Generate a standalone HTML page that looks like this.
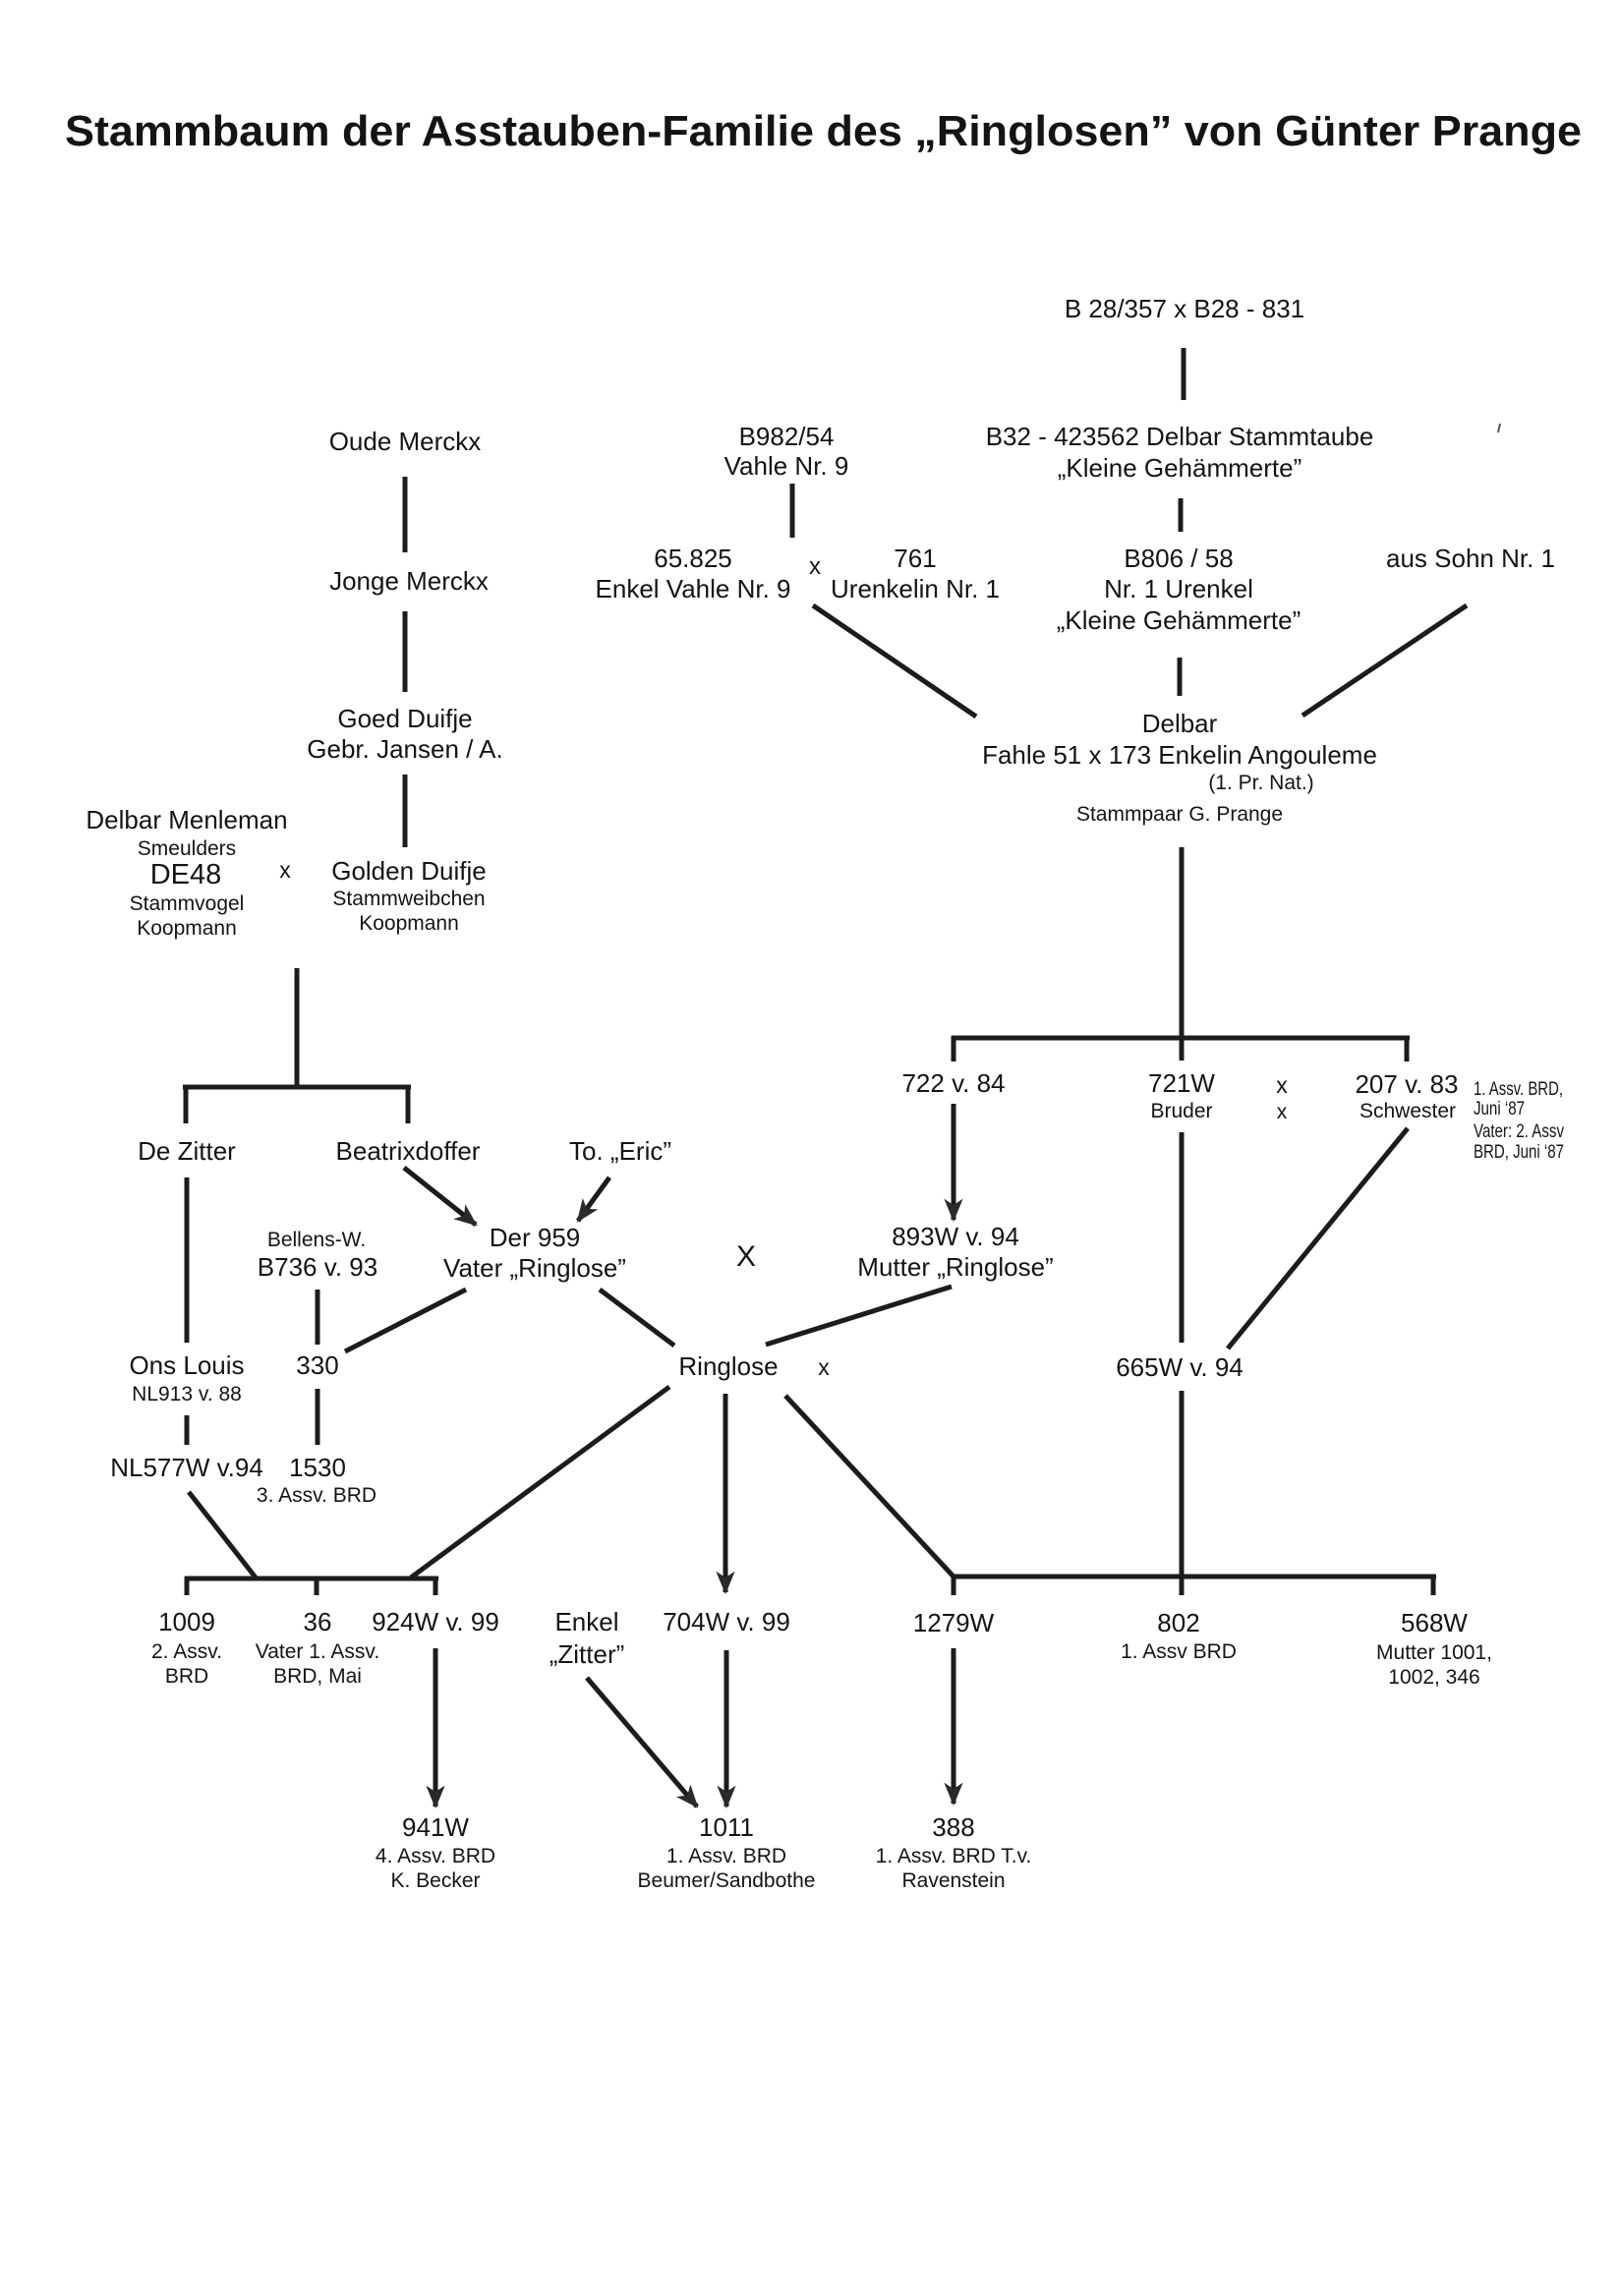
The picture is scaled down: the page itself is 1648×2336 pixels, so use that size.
<!DOCTYPE html>
<html>
<head>
<meta charset="utf-8">
<style>
html,body{margin:0;padding:0;background:#fff;}
svg{display:block;}
text{font-family:"Liberation Sans",Arial,sans-serif;fill:#141414;}
.m{font-size:26px;text-anchor:middle;}
.s{font-size:21px;text-anchor:middle;}
.n{font-size:19px;}
.l{stroke:#1c1c1c;stroke-width:5;fill:none;stroke-linecap:butt;}
</style>
</head>
<body>
<svg width="1648" height="2336" viewBox="0 0 1648 2336" xmlns="http://www.w3.org/2000/svg">
<defs>
<marker id="ar" markerUnits="userSpaceOnUse" markerWidth="30" markerHeight="30" viewBox="-24 -12 28 24" refX="0" refY="0" orient="auto">
<path d="M2,0 L-20,-9 L-14,0 L-20,9 Z" fill="#2a2a2a"/>
</marker>
</defs>
<rect width="1648" height="2336" fill="#fff"/>

<!-- Title -->
<text x="66" y="148" font-size="44" font-weight="bold" textLength="1543" lengthAdjust="spacingAndGlyphs">Stammbaum der Asstauben-Familie des „Ringlosen” von Günter Prange</text>

<!-- Top right -->
<text class="m" x="1205" y="323">B 28/357 x B28 - 831</text>
<line class="l" x1="1204" y1="354" x2="1204" y2="407"/>
<text class="m" x="800" y="453">B982/54</text>
<text class="m" x="800" y="483">Vahle Nr. 9</text>
<line class="l" x1="806" y1="492" x2="806" y2="547"/>
<text class="m" x="1200" y="453">B32 - 423562 Delbar Stammtaube</text>
<text class="m" x="1200" y="485">„Kleine Gehämmerte”</text>
<line class="l" x1="1201" y1="507" x2="1201" y2="541"/>
<line x1="1526" y1="431" x2="1524" y2="440" stroke="#555" stroke-width="2"/>

<text class="m" x="705" y="577">65.825</text>
<text class="m" x="705" y="608">Enkel Vahle Nr. 9</text>
<text class="m" x="829" y="584" style="font-size:24px">x</text>
<text class="m" x="931" y="577">761</text>
<text class="m" x="931" y="608">Urenkelin Nr. 1</text>
<text class="m" x="1199" y="577">B806 / 58</text>
<text class="m" x="1199" y="608">Nr. 1 Urenkel</text>
<text class="m" x="1199" y="640">„Kleine Gehämmerte”</text>
<text class="m" x="1496" y="577">aus Sohn Nr. 1</text>
<line class="l" x1="827" y1="616" x2="993" y2="729"/>
<line class="l" x1="1200" y1="669" x2="1200" y2="708"/>
<line class="l" x1="1492" y1="616" x2="1325" y2="728"/>
<text class="m" x="1200" y="745">Delbar</text>
<text class="m" x="1200" y="777">Fahle 51 x 173 Enkelin Angouleme</text>
<text class="s" x="1283" y="803">(1. Pr. Nat.)</text>
<text class="s" x="1200" y="835">Stammpaar G. Prange</text>

<line class="l" x1="1202" y1="862" x2="1202" y2="1079"/>
<line class="l" x1="968" y1="1056" x2="1434" y2="1056"/>
<line class="l" x1="970" y1="1054" x2="970" y2="1080"/>
<line class="l" x1="1431" y1="1054" x2="1431" y2="1080"/>

<text class="m" x="970" y="1111">722 v. 84</text>
<text class="m" x="1202" y="1111">721W</text>
<text class="s" x="1202" y="1137">Bruder</text>
<text class="s" x="1304" y="1112" style="font-size:23px">x</text>
<text class="s" x="1304" y="1138">x</text>
<text class="m" x="1431" y="1112">207 v. 83</text>
<text class="s" x="1432" y="1137">Schwester</text>
<text class="n" x="1499" y="1114" textLength="91" lengthAdjust="spacingAndGlyphs">1. Assv. BRD,</text>
<text class="n" x="1499" y="1134" textLength="52" lengthAdjust="spacingAndGlyphs">Juni ‘87</text>
<text class="n" x="1499" y="1157" textLength="92" lengthAdjust="spacingAndGlyphs">Vater: 2. Assv</text>
<text class="n" x="1499" y="1178" textLength="92" lengthAdjust="spacingAndGlyphs">BRD, Juni ‘87</text>

<line class="l" x1="970" y1="1123" x2="970" y2="1241" marker-end="url(#ar)"/>
<line class="l" x1="1202" y1="1152" x2="1202" y2="1366"/>
<line class="l" x1="1432" y1="1148" x2="1249" y2="1372"/>

<text class="m" x="972" y="1267">893W v. 94</text>
<text class="m" x="972" y="1298">Mutter „Ringlose”</text>
<text class="m" x="759" y="1288" style="font-size:30px">X</text>
<line class="l" x1="968" y1="1309" x2="779" y2="1368"/>
<text class="m" x="741" y="1399">Ringlose</text>
<text class="s" x="838" y="1399" style="font-size:23px">x</text>
<text class="m" x="1200" y="1400">665W v. 94</text>
<line class="l" x1="1202" y1="1415" x2="1202" y2="1623"/>

<!-- Left side -->
<text class="m" x="412" y="458">Oude Merckx</text>
<line class="l" x1="412" y1="485" x2="412" y2="562"/>
<text class="m" x="416" y="600">Jonge Merckx</text>
<line class="l" x1="412" y1="622" x2="412" y2="704"/>
<text class="m" x="412" y="740">Goed Duifje</text>
<text class="m" x="412" y="771">Gebr. Jansen / A.</text>
<line class="l" x1="412" y1="788" x2="412" y2="862"/>

<text class="m" x="190" y="843">Delbar Menleman</text>
<text class="s" x="190" y="870">Smeulders</text>
<text class="m" x="189" y="899" style="font-size:29px">DE48</text>
<text class="s" x="190" y="926">Stammvogel</text>
<text class="s" x="190" y="951">Koopmann</text>
<text class="s" x="290" y="893" style="font-size:23px">x</text>
<text class="m" x="416" y="895">Golden Duifje</text>
<text class="s" x="416" y="921">Stammweibchen</text>
<text class="s" x="416" y="946">Koopmann</text>

<line class="l" x1="302" y1="985" x2="302" y2="1106"/>
<line class="l" x1="186" y1="1106" x2="418" y2="1106"/>
<line class="l" x1="189" y1="1104" x2="189" y2="1143"/>
<line class="l" x1="415" y1="1104" x2="415" y2="1143"/>

<text class="m" x="190" y="1180">De Zitter</text>
<text class="m" x="415" y="1180">Beatrixdoffer</text>
<text class="m" x="631" y="1180">To. „Eric”</text>
<line class="l" x1="411" y1="1188" x2="484" y2="1246" marker-end="url(#ar)"/>
<line class="l" x1="620" y1="1198" x2="588" y2="1242" marker-end="url(#ar)"/>

<text class="s" x="322" y="1268">Bellens-W.</text>
<text class="m" x="323" y="1298">B736 v. 93</text>
<text class="m" x="544" y="1268">Der 959</text>
<text class="m" x="544" y="1299">Vater „Ringlose”</text>
<line class="l" x1="323" y1="1312" x2="323" y2="1368"/>
<text class="m" x="323" y="1398">330</text>
<line class="l" x1="323" y1="1413" x2="323" y2="1470"/>
<line class="l" x1="351" y1="1375" x2="474" y2="1312"/>
<line class="l" x1="610" y1="1312" x2="686" y2="1369"/>

<line class="l" x1="190" y1="1198" x2="190" y2="1366"/>
<text class="m" x="190" y="1398">Ons Louis</text>
<text class="s" x="190" y="1425">NL913 v. 88</text>
<line class="l" x1="190" y1="1440" x2="190" y2="1470"/>
<text class="m" x="190" y="1502">NL577W v.94</text>
<text class="m" x="323" y="1502">1530</text>
<text class="s" x="322" y="1528">3. Assv. BRD</text>

<line class="l" x1="192" y1="1518" x2="260" y2="1605"/>
<line class="l" x1="188" y1="1606" x2="446" y2="1606"/>
<line class="l" x1="190" y1="1604" x2="190" y2="1623"/>
<line class="l" x1="322" y1="1604" x2="322" y2="1623"/>
<line class="l" x1="443" y1="1604" x2="443" y2="1623"/>

<line class="l" x1="681" y1="1411" x2="418" y2="1605"/>
<line class="l" x1="738" y1="1418" x2="738" y2="1620" marker-end="url(#ar)"/>
<line class="l" x1="799" y1="1420" x2="970" y2="1604"/>
<line class="l" x1="968" y1="1604" x2="1461" y2="1604"/>
<line class="l" x1="970" y1="1602" x2="970" y2="1623"/>
<line class="l" x1="1458" y1="1602" x2="1458" y2="1623"/>

<!-- Bottom row -->
<text class="m" x="190" y="1659">1009</text>
<text class="s" x="190" y="1687">2. Assv.</text>
<text class="s" x="190" y="1712">BRD</text>
<text class="m" x="323" y="1659">36</text>
<text class="s" x="323" y="1687">Vater 1. Assv.</text>
<text class="s" x="323" y="1712">BRD, Mai</text>
<text class="m" x="443" y="1659">924W v. 99</text>
<text class="m" x="597" y="1659">Enkel</text>
<text class="m" x="597" y="1692">„Zitter”</text>
<text class="m" x="739" y="1659">704W v. 99</text>
<text class="m" x="970" y="1660">1279W</text>
<text class="m" x="1199" y="1660">802</text>
<text class="s" x="1199" y="1687">1. Assv BRD</text>
<text class="m" x="1459" y="1660">568W</text>
<text class="s" x="1459" y="1688">Mutter 1001,</text>
<text class="s" x="1459" y="1713">1002, 346</text>

<line class="l" x1="443" y1="1677" x2="443" y2="1838" marker-end="url(#ar)"/>
<line class="l" x1="597" y1="1707" x2="709" y2="1838" marker-end="url(#ar)"/>
<line class="l" x1="739" y1="1679" x2="739" y2="1838" marker-end="url(#ar)"/>
<line class="l" x1="970" y1="1677" x2="970" y2="1835" marker-end="url(#ar)"/>

<text class="m" x="443" y="1868">941W</text>
<text class="s" x="443" y="1895">4. Assv. BRD</text>
<text class="s" x="443" y="1920">K. Becker</text>
<text class="m" x="739" y="1868">1011</text>
<text class="s" x="739" y="1895">1. Assv. BRD</text>
<text class="s" x="739" y="1920">Beumer/Sandbothe</text>
<text class="m" x="970" y="1868">388</text>
<text class="s" x="970" y="1895">1. Assv. BRD T.v.</text>
<text class="s" x="970" y="1920">Ravenstein</text>
</svg>
</body>
</html>
